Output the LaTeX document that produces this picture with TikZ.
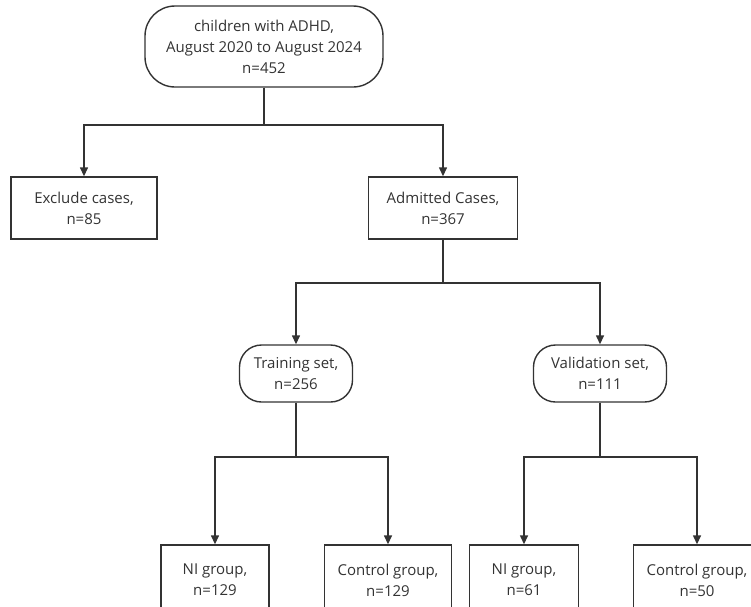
\documentclass[tikz,border=0pt]{standalone}
\usepackage{fontspec}
\setmainfont{Open Sans}
\usetikzlibrary{arrows.meta}
\definecolor{ink}{HTML}{333333}
\tikzset{
  box/.style={draw=ink, line width=1.4pt, text=ink, align=center, inner sep=0pt,
    font=\fontsize{15}{21}\selectfont},
  pill/.style={box, rounded corners=22pt},
  link/.style={draw=ink, line width=1.4pt},
  arr/.style={link, -{Triangle[length=9pt,width=8pt]}}
}
\begin{document}
\begin{tikzpicture}[x=1pt,y=-1pt]
\useasboundingbox (0,0) rectangle (751,606);
\clip (0,0) rectangle (751,606);
\node[pill, minimum width=238pt, minimum height=81pt, rounded corners=30pt] (top) at (264,46.5)
  {children with ADHD,\\August 2020 to August 2024\\n=452};
\node[box, minimum width=146pt, minimum height=62pt] (excl) at (84,208) {Exclude cases,\\n=85};
\node[box, minimum width=149pt, minimum height=62pt] (adm) at (443,208) {Admitted Cases,\\n=367};
\node[pill, minimum width=113pt, minimum height=57pt] (train) at (296,373.5) {Training set,\\n=256};
\node[pill, minimum width=133pt, minimum height=57pt] (valid) at (600,373.5) {Validation set,\\n=111};
\node[box, minimum width=108pt, minimum height=70pt] (ni1) at (215,580) {NI group,\\n=129};
\node[box, minimum width=127pt, minimum height=70pt] (ct1) at (388,580) {Control group,\\n=129};
\node[box, minimum width=109pt, minimum height=70pt] (ni2) at (524,580) {NI group,\\n=61};
\node[box, minimum width=127pt, minimum height=70pt] (ct2) at (697,580) {Control group,\\n=50};
\coordinate (j1) at (264,125);
\coordinate (j2) at (443,283);
\coordinate (j3) at (296,457);
\coordinate (j4) at (600,457);
\draw[link] (top.south) -- (j1);
\draw[arr] (j1) -| (excl.north);
\draw[arr] (j1) -| (adm.north);
\draw[link] (adm.south) -- (j2);
\draw[arr] (j2) -| (train.north);
\draw[arr] (j2) -| (valid.north);
\draw[link] (train.south) -- (j3);
\draw[arr] (j3) -| (ni1.north);
\draw[arr] (j3) -| (ct1.north);
\draw[link] (valid.south) -- (j4);
\draw[arr] (j4) -| (ni2.north);
\draw[arr] (j4) -| (ct2.north);
\end{tikzpicture}
\end{document}
